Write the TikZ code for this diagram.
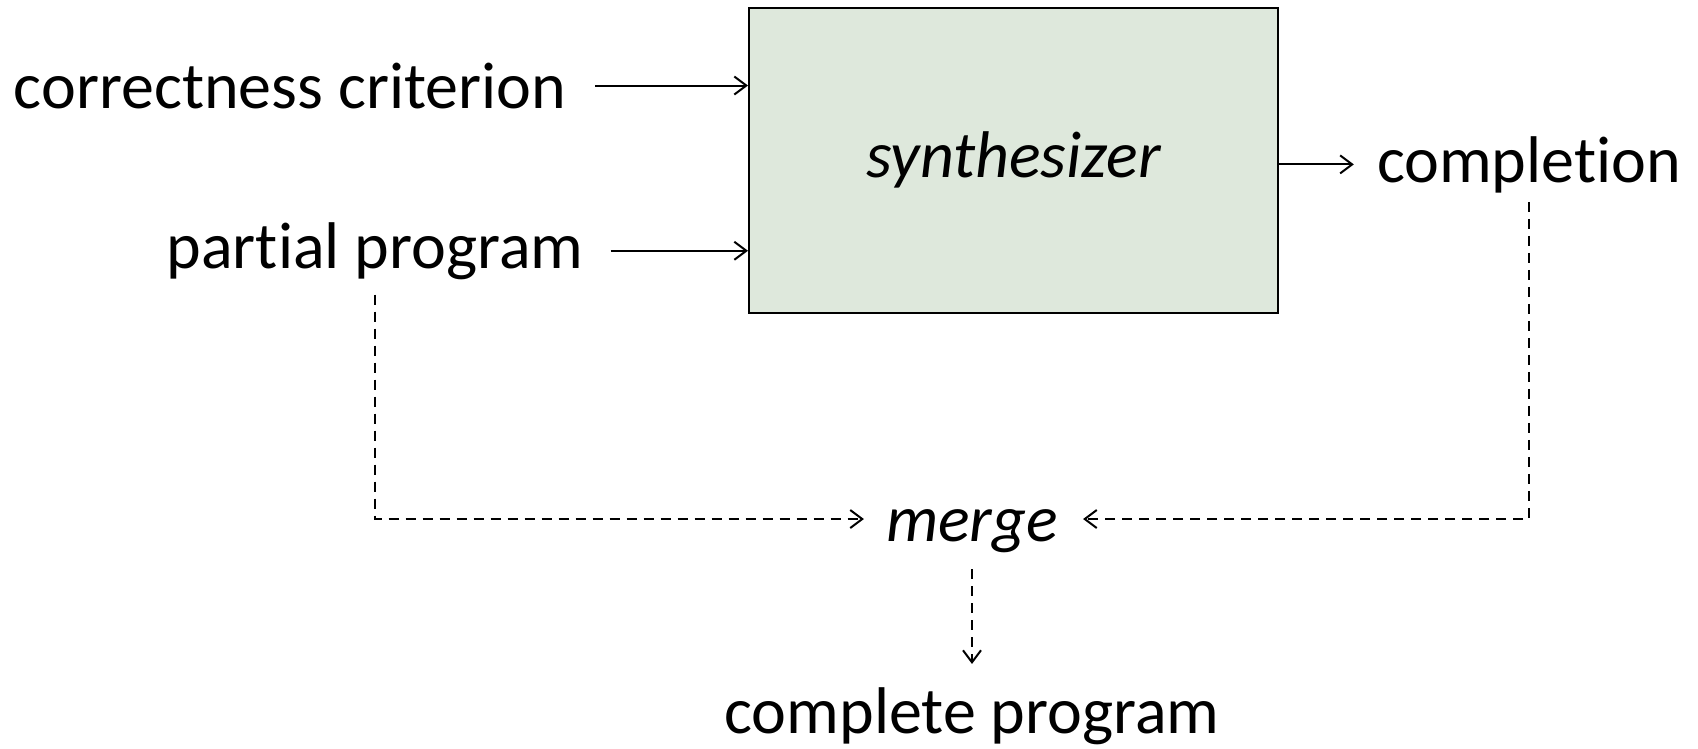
\documentclass[tikz,border=0pt]{standalone}
\usepackage{fontspec}
\setmainfont{Carlito}[Ligatures=NoCommon]
\usetikzlibrary{arrows.meta,positioning}
\definecolor{synthfill}{RGB}{222,232,220}

\begin{document}
\begin{tikzpicture}[x=1pt,y=-1pt,
  lbl/.style={font=\fontsize{66}{70}\selectfont,inner sep=0pt,anchor=base},
  arr/.style={-{Straight Barb[length=12pt,width=18pt]},line width=2pt},
  dsh/.style={arr,dash pattern=on 10pt off 7pt}]
\useasboundingbox (0,0) rectangle (1698,748);
% the box and the texts round it
\node[draw,line width=2pt,fill=synthfill,minimum width=529pt,minimum height=305pt,
  font=\fontsize{66}{70}\selectfont\itshape] (synth) at (1013.5,160) {synthesizer};
\node[lbl] (crit) at (290,108) {correctness criterion};
\node[lbl] (partial) at (375,268) {partial program};
\node[lbl] (compl) at (1529,182) {completion};
\node[lbl,font=\fontsize{66}{70}\selectfont\itshape,text depth=0pt] (merge) at (972,541) {merge};
\node[lbl] (result) at (972,733) {complete program};
% inputs and output
\draw[arr] ([xshift=29pt]crit.east) -- (synth.west |- crit.east);
\draw[arr] ([xshift=27pt]partial.east) -- (synth.west |- partial.east);
\draw[arr] (synth.east |- compl.west) -- ([xshift=-23pt]compl.west);
% merging
\draw[dsh] ([yshift=-15pt]partial.south) |- ([xshift=-22pt,yshift=6pt]merge.west);
\draw[dsh] ([yshift=-9pt]compl.south) |- ([xshift=25pt,yshift=6pt]merge.east);
\draw[dsh] ([yshift=-28pt]merge.south) -- ([yshift=23pt]result.north);
\end{tikzpicture}
\end{document}
